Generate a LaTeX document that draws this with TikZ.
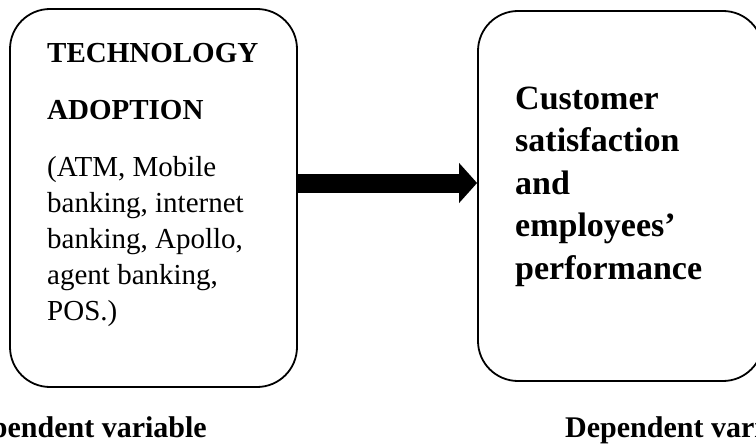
\documentclass[tikz,border=0pt]{standalone}
\usepackage{fontspec}
\setmainfont{Liberation Serif}
\usetikzlibrary{arrows.meta}

\begin{document}
\begin{tikzpicture}[x=1pt,y=-1pt,
    varbox/.style={draw,line width=1.8pt,rounded corners=40pt,inner sep=0pt},
    boxtext/.style={anchor=north west,inner sep=0pt,align=left},
    varlabel/.style={inner sep=0pt,font=\fontsize{30}{36}\selectfont\bfseries}]
                \useasboundingbox (0,0) rectangle (756,444);
                \clip (0,0) rectangle (756,444);

                % the two variable boxes
                \node[varbox,minimum width=287pt,minimum height=378pt] (indep) at (153.5,198) {};
                \node[varbox,minimum width=285pt,minimum height=370pt] (dep) at (620.5,196) {};

                \node[boxtext,font=\fontsize{29}{36}\selectfont] (indeptext) at (47,43.5)
                    {\textbf{TECHNOLOGY}\\[21pt]\textbf{ADOPTION}\\[21pt](ATM, Mobile\\banking, internet\\banking, Apollo,\\agent banking,\\POS.)};
                \node[boxtext,font=\fontsize{34}{42.5}\selectfont\bfseries] (deptext) at (515,86.5)
                    {Customer\\satisfaction\\and\\employees’\\performance};

                % thick arrow between the boxes
                \draw[line width=19pt,-{Triangle[length=18pt,width=39pt]}] ([yshift=15pt]indep.east) -- ([yshift=15pt]indep.east -| dep.west);

                \node[varlabel,anchor=base east] (indeplabel) at (207,437) {Independent variable};
                \node[varlabel,anchor=base west] (deplabel) at (565,437) {Dependent variable};

            \end{tikzpicture}
\end{document}
